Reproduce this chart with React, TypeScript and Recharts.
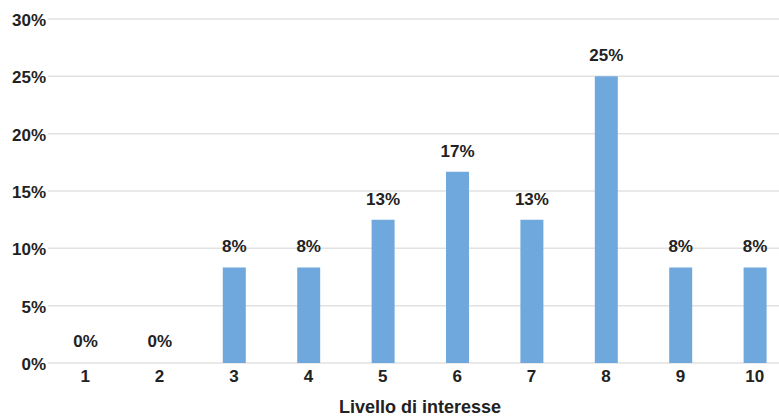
import { BarChart, Bar, Cell, XAxis, YAxis, CartesianGrid, LabelList, Label } from "recharts";

const levels = ["1", "2", "3", "4", "5", "6", "7", "8", "9", "10"];
// share of answers per level, in percent (24 answers)
const shares = [0, 0, 8.33, 8.33, 12.5, 16.67, 12.5, 25, 8.33, 8.33];
const yTicks = [0, 5, 10, 15, 20, 25, 30];

const data = levels.map((level, i) => ({ level, share: shares[i] }));

const font = "'Liberation Sans', Arial, sans-serif";
const textColor = "#222";

export default function App() {
  return (
    <div
      style={{
        position: "absolute",
        left: 0,
        top: 0,
        width: 779,
        height: 416,
        overflow: "hidden",
        background: "#fff",
      }}
    >
      <BarChart
        width={800}
        height={416}
        data={data}
        margin={{ top: 19, right: 8, bottom: 0, left: 0 }}
        style={{ fontFamily: font }}
      >
        <CartesianGrid vertical={false} stroke="#e2e2e2" strokeWidth={1.5} />
        <XAxis
          dataKey="level"
          axisLine={false}
          tickLine={false}
          tickSize={0}
          tickMargin={7}
          height={53}
          tick={{ fill: textColor, fontSize: 17, fontWeight: "bold" }}
        >
          <Label
            value="Livello di interesse"
            position="insideBottom"
            offset={3}
            style={{ fill: textColor, fontSize: 18, fontWeight: "bold" }}
          />
        </XAxis>
        <YAxis
          domain={[0, 30]}
          ticks={yTicks}
          interval={0}
          width={48}
          axisLine={false}
          tickLine={false}
          tickSize={0}
          tickMargin={2}
          tickFormatter={(v: number) => `${v}%`}
          tick={{ fill: textColor, fontSize: 17, fontWeight: "bold", dy: 1 }}
        />
        {/* minPointSize keeps empty levels in the list so their 0% label still shows */}
        <Bar dataKey="share" fill="#6fa8dc" barSize={23} minPointSize={1} isAnimationActive={false}>
          {data.map((d) => (
            <Cell key={d.level} fillOpacity={d.share > 0 ? 1 : 0} />
          ))}
          <LabelList
            dataKey="share"
            position="top"
            offset={15}
            formatter={(v: number) => `${Math.round(v)}%`}
            style={{ fill: textColor, fontSize: 17, fontWeight: "bold" }}
          />
        </Bar>
      </BarChart>
    </div>
  );
}
